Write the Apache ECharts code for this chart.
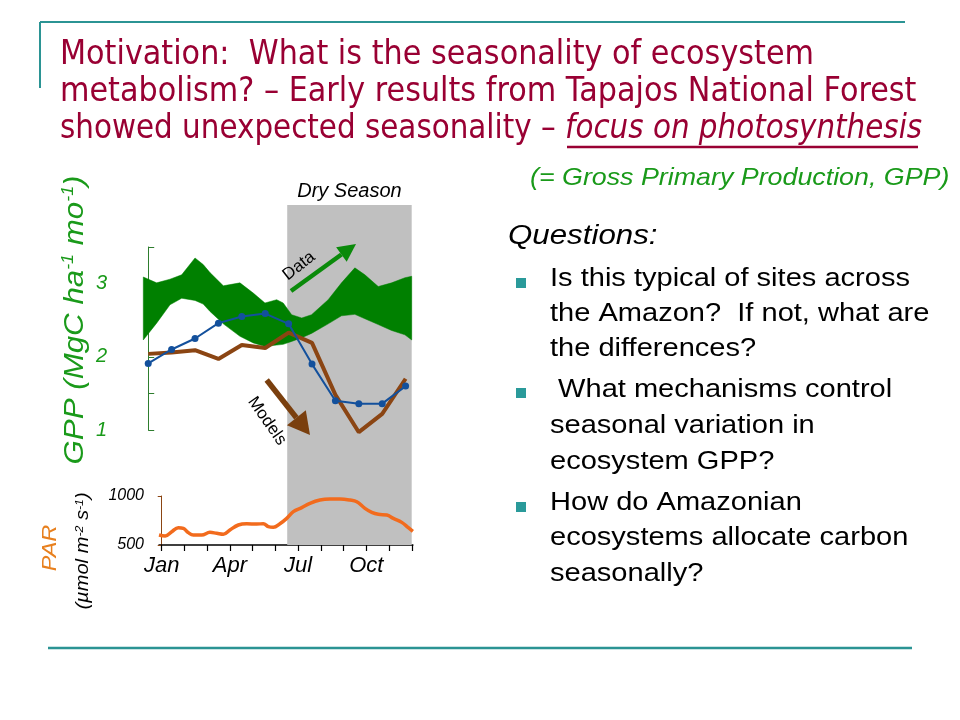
<!DOCTYPE html>
<html><head><meta charset="utf-8">
<script src="https://cdn.jsdelivr.net/npm/echarts@6/dist/echarts.min.js"></script>
<style>html,body{margin:0;padding:0;background:#fff}#c{width:960px;height:720px}</style>
</head><body><div id="c"></div>
<script>
// ---- data (month index 0 = Jan) ----
const months = [0,1,2,3,4,5,6,7,8,9,10,11];
const gppBlue  = [1.91,2.10,2.25,2.46,2.55,2.59,2.45,1.90,1.40,1.36,1.36,1.60];
const gppBrown = [2.04,2.06,2.09,1.97,2.16,2.12,2.33,2.19,1.48,0.97,1.22,1.70];
const bandX     = [-0.21,0.36,0.93,1.43,2.0,2.35,2.64,3.21,3.92,4.49,4.99,5.49,5.77,6.13,6.56,6.98,7.69,8.26,8.83,9.26,9.83,10.4,10.97,11.26];
const bandUpper = [3.09,3.01,3.06,3.12,3.35,3.26,3.15,2.97,3.01,2.87,2.735,2.78,2.735,2.575,2.53,2.575,2.78,3.01,3.215,3.12,2.96,3.01,3.08,3.10];
const bandLower = [2.23,2.46,2.71,2.80,2.77,2.72,2.62,2.45,2.28,2.19,2.14,2.16,2.17,2.21,2.26,2.32,2.45,2.56,2.58,2.52,2.44,2.36,2.30,2.23];
const parX      = [-0.12,0.15,0.44,0.73,0.95,1.17,1.39,1.76,2.12,2.42,2.71,3.0,3.37,3.74,4.18,4.47,4.69,4.91,5.2,5.5,5.79,6.16,6.52,6.96,7.4,7.84,8.28,8.58,8.94,9.24,9.53,9.9,10.19,10.56,10.85,11.05];
const parValues = [602,592,636,677,670,626,602,602,629,619,609,653,704,717,714,717,687,680,717,772,840,881,925,959,969,969,959,942,874,833,813,806,772,731,677,640];
const dryStart = 5.94, dryEnd = 11.26;
const labelMonths = [0,3,6,9];
const labelNames  = ['Jan','Apr','Jul','Oct'];
const gppTicks = [1,1.5,2,2.5,3,3.5];
const gppLabels = [1,2,3];
const parTicks = [500,1000];

const titleLines = [
  'Motivation:  What is the seasonality of ecosystem',
  'metabolism? – Early results from Tapajos National Forest'
];
const titleLine3a = 'showed unexpected seasonality – ';
const titleLine3b = 'focus on photosynthesis';
const subtitle = '(= Gross Primary Production, GPP)';
const questionsHead = 'Questions:';
const bulletLines = [
  ['Is this typical of sites across','the Amazon?  If not, what are','the differences?'],
  [' What mechanisms control','seasonal variation in','ecosystem GPP?'],
  ['How do Amazonian','ecosystems allocate carbon','seasonally?']
];

const chart = echarts.init(document.getElementById('c'), null, {renderer:'canvas'});

const MAROON = '#990033', TEAL = '#2b9494', GREEN_T = '#1a9a1a';
const SX = 1.117;

function arrow(x1,y1,x2,y2,color,w,hl,hw){
  const dx=x2-x1, dy=y2-y1, L=Math.hypot(dx,dy), ux=dx/L, uy=dy/L;
  const bx=x2-hl*ux, by=y2-hl*uy, nx=-uy, ny=ux;
  return [
    {type:'line', shape:{x1:x1,y1:y1,x2:bx,y2:by}, style:{stroke:color,lineWidth:w}, z:50},
    {type:'polygon', shape:{points:[[x2,y2],[bx+hw*nx,by+hw*ny],[bx-hw*nx,by-hw*ny]]}, style:{fill:color}, z:50}
  ];
}

const graphics = [];
graphics.push({type:'line', shape:{x1:40,y1:22,x2:905,y2:22}, style:{stroke:TEAL,lineWidth:2}});
graphics.push({type:'line', shape:{x1:40,y1:22,x2:40,y2:88}, style:{stroke:TEAL,lineWidth:2}});
graphics.push({type:'line', shape:{x1:48,y1:648,x2:912,y2:648}, style:{stroke:TEAL,lineWidth:2.5}});
const titleFont = '34px "DejaVu Sans"';
const titleY = [55, 92];
titleLines.forEach((t,i)=>{
  graphics.push({type:'text', x:60, y:titleY[i], scaleX:0.89,
    style:{text:t, font:titleFont, fill:MAROON, textAlign:'left', verticalAlign:'middle'}});
});
graphics.push({type:'text', x:60, y:129, scaleX:0.865,
  style:{text:'{n|'+titleLine3a+'}{i|'+titleLine3b+'}', textAlign:'left', verticalAlign:'middle',
    rich:{n:{font:titleFont, fill:MAROON}, i:{font:'italic '+titleFont, fill:MAROON}}}});
graphics.push({type:'line', shape:{x1:567,y1:147,x2:918,y2:147}, style:{stroke:MAROON,lineWidth:2.5}});
graphics.push({type:'text', x:530, y:178, scaleX:SX,
  style:{text:subtitle, font:'italic 24px "Liberation Sans"', fill:GREEN_T, textAlign:'left', verticalAlign:'middle'}});
graphics.push({type:'text', x:508, y:236, scaleX:SX,
  style:{text:questionsHead, font:'italic 28px "Liberation Sans"', fill:'#000', textAlign:'left', verticalAlign:'middle'}});
const lineMid = [[279,314,349],[390,426,462],[503,538,574]];
const bulletY = [283,393,507];
bulletLines.forEach((grp,g)=>{
  graphics.push({type:'rect', shape:{x:516,y:bulletY[g]-5,width:10,height:10}, style:{fill:'#2a9a9a'}});
  grp.forEach((t,k)=>{
    graphics.push({type:'text', x:550, y:lineMid[g][k], scaleX:SX,
      style:{text:t, font:'26px "Liberation Sans"', fill:'#000', textAlign:'left', verticalAlign:'middle'}});
  });
});
graphics.push({type:'text', x:75, y:320, rotation:Math.PI/2, scaleX:SX,
  style:{text:'{a|GPP (MgC ha}{s|-1}{a| mo}{s|-1}{a|)}', textAlign:'center', verticalAlign:'middle',
    rich:{a:{font:'italic 28px "Liberation Sans"', fill:GREEN_T}, s:{font:'italic 16px "Liberation Sans"', fill:GREEN_T, verticalAlign:'top'}}}});
graphics.push({type:'text', x:50, y:548, rotation:Math.PI/2, scaleX:SX,
  style:{text:'PAR', font:'italic 21px "Liberation Sans"', fill:'#e8801e', textAlign:'center', verticalAlign:'middle'}});
graphics.push({type:'text', x:83, y:551, rotation:Math.PI/2, scaleX:SX,
  style:{text:'{a|(µmol m}{s|-2}{a| s}{s|-1}{a|)}', textAlign:'center', verticalAlign:'middle',
    rich:{a:{font:'italic 18px "Liberation Sans"', fill:'#000'}, s:{font:'italic 11px "Liberation Sans"', fill:'#000', verticalAlign:'top'}}}});
arrow(291,291,356,244,'#0a8a0a',4.5,18,9).forEach(e=>graphics.push(e));
arrow(266.7,380,310,435,'#7a3f0e',5.5,22,12).forEach(e=>graphics.push(e));
graphics.push({type:'text', x:299, y:266, rotation:38*Math.PI/180, z:51,
  style:{text:'Data', font:'17px "Liberation Sans"', fill:'#000', textAlign:'center', verticalAlign:'middle'}});
graphics.push({type:'text', x:267, y:421, rotation:-55*Math.PI/180, z:51,
  style:{text:'Models', font:'17px "Liberation Sans"', fill:'#000', textAlign:'center', verticalAlign:'middle'}});

// band: one polygon built from upper edge then lower edge (reversed), via api.coord
function renderBand(params, api){
  if (params.dataIndex !== 0) return null;
  const pts = [];
  for (let i=0;i<bandX.length;i++) pts.push(api.coord([bandX[i], bandUpper[i]]));
  for (let i=bandX.length-1;i>=0;i--) pts.push(api.coord([bandX[i], bandLower[i]]));
  return {type:'polygon', shape:{points:pts}, style:{fill:'#008000', stroke:'#008000', lineWidth:0.5}};
}

const option = {
  animation:false,
  backgroundColor:'#fff',
  grid:[
    {left:143.3, width:268.4, top:205, height:340},
    {left:143.3, width:268.4, top:247, height:183},
    {left:159, width:253.9, top:496, height:49}
  ],
  xAxis:[
    {gridIndex:0, type:'value', min:-0.21, max:11.26, show:false},
    {gridIndex:1, type:'value', min:-0.21, max:11.26, show:false},
    {gridIndex:2, type:'value', min:-0.12, max:11.05,
      axisLine:{show:true, lineStyle:{color:'#000', width:1.5}},
      axisTick:{show:true, customValues:months, length:6, lineStyle:{color:'#000', width:1.2}},
      axisLabel:{show:true, customValues:labelMonths, margin:10,
        formatter:v=>labelNames[labelMonths.indexOf(Math.round(v))] || '',
        fontStyle:'italic', fontSize:22, color:'#000', fontFamily:'Liberation Sans'},
      splitLine:{show:false}}
  ],
  yAxis:[
    {gridIndex:0, type:'value', min:0, max:1, show:false},
    {gridIndex:1, type:'value', min:1, max:3.5, offset:23.3,
      axisLine:{show:true, lineStyle:{color:'#2e7d2e', width:1}},
      axisTick:{show:true, inside:true, length:6, customValues:gppTicks, lineStyle:{color:'#2e7d2e'}},
      axisLabel:{show:true, customValues:gppLabels, margin:13, formatter:v=>String(v),
        fontStyle:'italic', fontSize:20, color:GREEN_T, fontFamily:'Liberation Sans'},
      splitLine:{show:false}},
    {gridIndex:2, type:'value', min:500, max:1000, offset:9,
      axisLine:{show:true, lineStyle:{color:'#8b4513', width:1}},
      axisTick:{show:true, length:4, customValues:parTicks, lineStyle:{color:'#8b4513'}},
      axisLabel:{show:true, customValues:parTicks, margin:6, formatter:v=>String(v),
        fontStyle:'italic', fontSize:16, color:'#000', fontFamily:'Liberation Sans'},
      splitLine:{show:false}}
  ],
  series:[
    {type:'line', xAxisIndex:0, yAxisIndex:0, z:1, symbol:'none', silent:true,
      data:[[dryStart,0],[dryEnd,0]], lineStyle:{width:0, opacity:0},
      markArea:{silent:true, itemStyle:{color:'#c0c0c0'},
        label:{show:true, position:'top', formatter:'Dry Season', fontStyle:'italic', fontSize:20, color:'#000', fontFamily:'Liberation Sans', distance:4},
        data:[[{xAxis:dryStart},{xAxis:dryEnd}]]}},
    {type:'custom', name:'GPP data band', xAxisIndex:1, yAxisIndex:1, z:2, silent:true,
      renderItem:renderBand, data:bandX.map((x,i)=>[x,bandLower[i],bandUpper[i]]),
      encode:{x:0, y:[1,2]}},
    {type:'line', name:'model2', xAxisIndex:1, yAxisIndex:1, z:3, symbol:'none', clip:false,
      data:months.map((m,i)=>[m,gppBrown[i]]), lineStyle:{color:'#8b4513', width:4}},
    {type:'line', name:'model1', xAxisIndex:1, yAxisIndex:1, z:4, symbol:'circle', symbolSize:7, clip:false,
      data:months.map((m,i)=>[m,gppBlue[i]]), lineStyle:{color:'#13509c', width:2}, itemStyle:{color:'#13509c'}},
    {type:'line', name:'PAR', xAxisIndex:2, yAxisIndex:2, z:3, symbol:'none', smooth:0.4,
      data:parX.map((x,i)=>[x,parValues[i]]), lineStyle:{color:'#f26b1d', width:3.5}}
  ],
  graphic:graphics
};
chart.setOption(option);
</script></body></html>
